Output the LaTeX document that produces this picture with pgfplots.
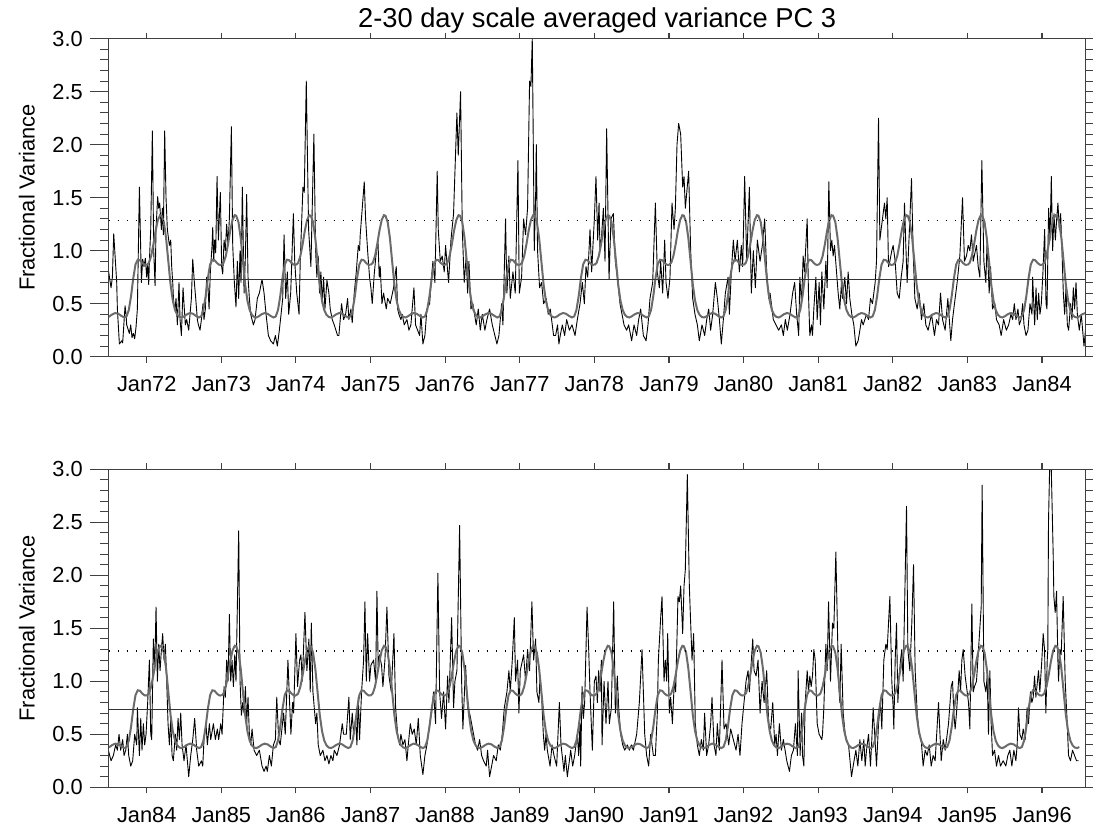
\documentclass[border=0pt]{standalone}
\usepackage{fontspec}
\setmainfont{Liberation Sans}
\usepackage{pgfplots}
\usepackage{pgfplotstable}
\pgfplotsset{compat=1.18}

\pgfplotstableread{
p v
0.000 0.865
0.030 0.885
0.060 0.950
0.090 1.060
0.120 1.190
0.150 1.290
0.180 1.335
0.200 1.330
0.230 1.270
0.260 1.120
0.290 0.900
0.320 0.680
0.350 0.530
0.380 0.440
0.410 0.395
0.440 0.375
0.470 0.370
0.500 0.380
0.540 0.400
0.580 0.412
0.620 0.405
0.660 0.385
0.700 0.370
0.730 0.380
0.760 0.440
0.790 0.570
0.820 0.740
0.850 0.870
0.880 0.915
0.910 0.910
0.940 0.885
0.970 0.868
1.000 0.865
}\cyc

\pgfplotstableread{
p v
0.000 0.865
0.030 0.885
0.060 0.950
0.090 1.060
0.120 1.190
0.150 1.290
0.180 1.335
0.200 1.330
0.230 1.270
0.260 1.120
0.290 0.900
0.320 0.680
0.350 0.530
0.380 0.440
0.410 0.395
0.440 0.375
0.470 0.370
0.500 0.380
}\cychalf

\pgfplotstableread{
t v
1971.486 0.82
1971.522 0.65
1971.540 0.75
1971.558 1.16
1971.598 0.70
1971.607 0.45
1971.634 0.12
1971.665 0.15
1971.678 0.13
1971.710 0.48
1971.723 0.40
1971.732 0.30
1971.754 0.25
1971.768 0.22
1971.786 0.30
1971.803 0.18
1971.821 0.22
1971.839 0.17
1971.857 0.28
1971.875 0.45
1971.902 1.60
1971.929 0.70
1971.946 0.92
1971.964 0.85
1971.982 0.93
1972.000 0.75
1972.013 0.88
1972.027 0.68
1972.036 0.90
1972.054 1.20
1972.076 2.13
1972.094 1.00
1972.112 0.67
1972.125 1.20
1972.147 1.51
1972.161 1.40
1972.174 1.45
1972.197 1.20
1972.210 1.40
1972.223 1.15
1972.241 2.13
1972.259 1.50
1972.277 1.20
1972.304 1.05
1972.322 1.10
1972.335 0.85
1972.349 0.70
1972.362 0.50
1972.380 0.45
1972.393 0.55
1972.411 0.30
1972.433 0.70
1972.447 0.35
1972.465 0.20
1972.487 0.65
1972.500 0.50
1972.518 0.30
1972.536 0.35
1972.563 0.25
1972.581 0.40
1972.599 0.55
1972.617 0.92
1972.639 0.70
1972.657 0.55
1972.679 0.35
1972.693 0.30
1972.715 0.25
1972.733 0.35
1972.755 0.50
1972.768 0.35
1972.786 0.45
1972.804 0.75
1972.822 0.65
1972.836 0.45
1972.853 0.80
1972.876 1.05
1972.885 1.22
1972.898 0.90
1972.911 1.10
1972.925 0.98
1972.943 1.70
1972.961 1.10
1972.987 1.55
1973.005 0.85
1973.019 0.78
1973.037 1.10
1973.054 1.00
1973.072 1.25
1973.090 1.05
1973.108 1.30
1973.135 2.17
1973.153 1.05
1973.175 0.70
1973.197 0.47
1973.215 0.90
1973.233 0.55
1973.251 1.00
1973.264 0.70
1973.282 1.60
1973.305 0.60
1973.323 0.95
1973.340 1.53
1973.358 0.75
1973.376 0.55
1973.394 0.40
1973.430 0.30
1973.452 0.35
1973.483 0.55
1973.510 0.60
1973.546 0.73
1973.573 0.60
1973.600 0.40
1973.631 0.20
1973.662 0.15
1973.698 0.12
1973.725 0.20
1973.751 0.10
1973.778 0.25
1973.801 0.40
1973.823 0.55
1973.841 1.15
1973.863 0.55
1973.885 0.80
1973.903 0.40
1973.930 0.60
1973.966 1.35
1973.984 0.90
1974.011 0.60
1974.042 0.40
1974.058 0.90
1974.094 1.60
1974.112 1.55
1974.139 2.60
1974.170 1.20
1974.201 0.85
1974.241 2.10
1974.264 1.00
1974.281 0.75
1974.299 0.95
1974.317 0.60
1974.335 0.80
1974.353 0.50
1974.371 0.75
1974.389 0.45
1974.416 0.72
1974.442 0.60
1974.460 0.45
1974.487 0.35
1974.514 0.30
1974.558 0.20
1974.576 0.20
1974.612 0.50
1974.639 0.35
1974.666 0.40
1974.693 0.55
1974.710 0.35
1974.737 0.45
1974.755 0.32
1974.782 0.60
1974.809 0.80
1974.836 1.05
1974.853 1.00
1974.862 1.15
1974.889 1.40
1974.916 1.65
1974.934 1.30
1974.961 1.00
1974.987 0.75
1975.005 0.65
1975.023 0.50
1975.050 0.78
1975.072 0.95
1975.099 1.10
1975.117 0.75
1975.130 0.85
1975.153 0.50
1975.175 0.60
1975.211 0.45
1975.229 0.55
1975.264 0.50
1975.309 0.65
1975.345 0.85
1975.363 0.45
1975.381 0.40
1975.407 0.35
1975.425 0.40
1975.452 0.30
1975.488 0.35
1975.515 0.25
1975.541 0.30
1975.582 0.65
1975.604 0.30
1975.631 0.25
1975.658 0.20
1975.676 0.40
1975.702 0.12
1975.729 0.20
1975.756 0.45
1975.792 0.50
1975.818 0.75
1975.836 0.90
1975.863 0.70
1975.894 1.75
1975.908 1.20
1975.935 0.90
1975.961 0.95
1975.988 0.80
1976.006 1.05
1976.046 0.70
1976.078 1.10
1976.113 1.35
1976.158 2.30
1976.176 1.90
1976.207 2.50
1976.230 1.20
1976.256 0.70
1976.283 0.95
1976.301 0.60
1976.319 0.90
1976.346 0.45
1976.372 0.50
1976.417 0.30
1976.444 0.45
1976.471 0.25
1976.498 0.40
1976.533 0.25
1976.560 0.35
1976.596 0.45
1976.632 0.30
1976.667 0.20
1976.694 0.12
1976.721 0.20
1976.757 0.50
1976.775 0.30
1976.810 1.30
1976.828 0.60
1976.855 0.95
1976.873 0.55
1976.909 0.80
1976.940 0.60
1976.976 1.85
1976.994 0.60
1977.025 0.75
1977.052 1.30
1977.078 1.15
1977.105 1.40
1977.132 2.60
1977.150 2.55
1977.168 3.00
1977.186 1.70
1977.195 1.00
1977.213 1.50
1977.222 2.00
1977.239 1.00
1977.266 0.65
1977.293 0.70
1977.320 0.50
1977.355 0.55
1977.382 0.40
1977.409 0.45
1977.454 0.20
1977.481 0.20
1977.507 0.30
1977.525 0.12
1977.543 0.20
1977.571 0.30
1977.602 0.20
1977.629 0.35
1977.665 0.25
1977.701 0.30
1977.741 0.20
1977.772 0.35
1977.808 0.50
1977.839 0.70
1977.866 0.50
1977.888 0.85
1977.911 0.75
1977.942 1.20
1977.964 0.80
1977.978 1.00
1978.000 1.30
1978.022 1.70
1978.045 1.10
1978.063 1.45
1978.076 1.00
1978.098 1.15
1978.121 1.40
1978.143 0.90
1978.165 2.15
1978.197 0.73
1978.223 1.30
1978.255 1.35
1978.281 0.90
1978.308 0.75
1978.344 0.50
1978.371 0.40
1978.398 0.30
1978.433 0.25
1978.460 0.30
1978.500 0.15
1978.532 0.30
1978.567 0.20
1978.594 0.35
1978.621 0.45
1978.657 0.20
1978.693 0.15
1978.719 0.30
1978.746 0.55
1978.782 0.70
1978.818 1.45
1978.844 0.80
1978.871 0.65
1978.889 0.90
1978.916 0.60
1978.943 1.10
1978.961 0.70
1978.987 0.55
1979.014 0.75
1979.041 1.45
1979.068 1.20
1979.086 1.40
1979.108 2.00
1979.130 2.20
1979.157 2.10
1979.184 1.60
1979.202 1.70
1979.220 1.40
1979.264 1.75
1979.291 1.00
1979.318 0.55
1979.349 0.40
1979.381 0.30
1979.407 0.15
1979.443 0.30
1979.479 0.20
1979.506 0.35
1979.533 0.45
1979.559 0.25
1979.586 0.40
1979.622 0.70
1979.649 0.55
1979.676 0.35
1979.702 0.12
1979.729 0.35
1979.756 0.60
1979.792 0.75
1979.810 0.40
1979.836 0.80
1979.863 1.10
1979.886 0.90
1979.917 1.10
1979.944 0.80
1979.970 1.05
1979.988 0.85
1980.015 1.70
1980.042 0.90
1980.078 1.60
1980.104 0.60
1980.131 1.00
1980.158 0.65
1980.185 1.10
1980.221 0.90
1980.252 1.05
1980.283 1.30
1980.310 0.80
1980.337 0.55
1980.355 0.60
1980.399 0.35
1980.435 0.30
1980.471 0.25
1980.507 0.30
1980.533 0.20
1980.560 0.35
1980.587 0.25
1980.623 0.40
1980.658 0.60
1980.685 0.70
1980.712 0.40
1980.739 0.20
1980.754 0.75
1980.777 0.50
1980.799 0.95
1980.817 0.80
1980.853 1.30
1980.870 0.60
1980.888 0.20
1980.911 0.30
1980.924 0.20
1980.942 0.45
1980.969 0.75
1980.987 0.35
1981.013 0.70
1981.031 0.30
1981.049 0.80
1981.076 0.45
1981.103 0.90
1981.121 0.65
1981.143 1.65
1981.165 1.00
1981.183 1.10
1981.201 0.95
1981.219 1.05
1981.246 0.80
1981.268 0.60
1981.290 0.45
1981.313 0.70
1981.326 0.55
1981.357 0.75
1981.380 0.50
1981.402 0.80
1981.424 0.55
1981.451 0.40
1981.478 0.30
1981.505 0.10
1981.536 0.15
1981.559 0.25
1981.581 0.35
1981.603 0.30
1981.648 0.40
1981.675 0.35
1981.701 0.55
1981.728 0.50
1981.746 0.60
1981.764 0.70
1981.782 0.90
1981.809 2.25
1981.827 1.10
1981.844 1.20
1981.862 1.30
1981.889 1.45
1981.907 1.30
1981.925 1.50
1981.943 0.85
1981.961 0.90
1981.987 1.00
1982.005 1.05
1982.032 0.90
1982.059 0.60
1982.086 0.55
1982.113 0.75
1982.139 0.90
1982.157 1.45
1982.175 1.05
1982.193 0.70
1982.229 1.30
1982.251 1.68
1982.273 1.00
1982.296 0.55
1982.327 0.45
1982.354 0.60
1982.385 0.35
1982.416 0.50
1982.443 0.30
1982.474 0.25
1982.519 0.40
1982.559 0.20
1982.586 0.35
1982.613 0.30
1982.640 0.60
1982.667 0.35
1982.702 0.25
1982.738 0.55
1982.778 0.15
1982.801 0.35
1982.827 0.50
1982.863 0.70
1982.899 0.95
1982.935 1.50
1982.961 0.90
1982.988 0.95
1983.011 1.05
1983.033 1.00
1983.055 1.15
1983.078 0.90
1983.122 1.05
1983.145 0.85
1983.167 0.75
1983.194 1.85
1983.221 0.90
1983.247 0.70
1983.265 1.10
1983.292 0.60
1983.310 0.85
1983.337 0.45
1983.368 0.50
1983.390 0.35
1983.426 0.30
1983.453 0.20
1983.486 0.35
1983.522 0.25
1983.553 0.30
1983.584 0.40
1983.607 0.35
1983.629 0.50
1983.651 0.35
1983.678 0.45
1983.696 0.30
1983.719 0.35
1983.741 0.50
1983.759 0.30
1983.786 0.20
1983.812 0.25
1983.839 0.50
1983.866 0.40
1983.875 0.75
1983.902 0.30
1983.920 0.65
1983.937 0.35
1983.955 0.60
1983.973 0.40
1983.991 0.50
1984.013 0.80
1984.036 1.20
1984.054 0.50
1984.067 0.45
1984.089 1.40
1984.107 1.10
1984.125 1.70
1984.143 1.00
1984.161 1.35
1984.179 1.10
1984.197 1.30
1984.214 1.45
1984.232 1.20
1984.250 1.35
1984.268 1.00
1984.286 0.60
1984.304 0.40
1984.322 0.65
1984.340 0.30
1984.357 0.25
1984.384 0.50
1984.402 0.35
1984.420 0.65
1984.438 0.45
1984.456 0.70
1984.474 0.40
1984.500 0.25
1984.527 0.40
1984.563 0.10
1984.590 0.30
1984.617 0.45
1984.643 0.65
1984.670 0.35
1984.697 0.20
1984.733 0.25
1984.751 0.20
1984.768 0.45
1984.795 0.60
1984.813 0.40
1984.840 0.60
1984.858 0.45
1984.894 0.60
1984.920 0.45
1984.947 0.55
1984.965 0.45
1984.992 0.60
1985.010 0.50
1985.037 0.95
1985.054 0.85
1985.072 1.20
1985.090 1.00
1985.108 1.63
1985.126 1.00
1985.144 1.20
1985.162 0.95
1985.180 1.25
1985.197 1.00
1985.233 2.42
1985.251 1.00
1985.269 0.68
1985.287 0.80
1985.305 0.70
1985.323 0.95
1985.340 0.60
1985.358 0.85
1985.376 0.50
1985.394 0.40
1985.412 0.55
1985.439 0.35
1985.474 0.30
1985.510 0.35
1985.546 0.20
1985.573 0.15
1985.600 0.20
1985.617 0.15
1985.644 0.30
1985.671 0.20
1985.698 0.40
1985.725 0.45
1985.743 0.85
1985.769 0.45
1985.790 0.40
1985.812 0.55
1985.835 0.70
1985.857 0.50
1985.893 1.20
1985.915 0.80
1985.933 0.50
1985.955 0.80
1985.969 0.70
1986.000 1.45
1986.022 0.95
1986.049 1.20
1986.067 1.25
1986.085 1.00
1986.121 1.65
1986.147 1.10
1986.174 1.40
1986.192 0.90
1986.206 1.55
1986.228 0.90
1986.246 0.75
1986.264 0.60
1986.281 0.70
1986.299 0.40
1986.326 0.30
1986.362 0.35
1986.389 0.25
1986.416 0.30
1986.442 0.22
1986.469 0.30
1986.496 0.25
1986.514 0.35
1986.550 0.30
1986.585 0.40
1986.621 0.60
1986.639 0.50
1986.675 0.50
1986.710 0.85
1986.728 0.45
1986.755 0.70
1986.773 0.50
1986.800 0.65
1986.818 0.40
1986.836 0.85
1986.853 0.45
1986.880 0.90
1986.907 1.20
1986.925 1.75
1986.943 1.00
1986.961 1.45
1986.987 1.00
1987.005 1.15
1987.041 1.20
1987.068 1.00
1987.086 1.85
1987.104 1.10
1987.121 1.25
1987.148 1.15
1987.166 0.95
1987.193 1.20
1987.220 1.70
1987.247 1.05
1987.278 0.90
1987.314 1.45
1987.336 0.75
1987.363 0.50
1987.390 0.40
1987.407 0.50
1987.434 0.40
1987.461 0.45
1987.488 0.25
1987.506 0.40
1987.533 0.60
1987.559 0.50
1987.586 0.55
1987.613 0.40
1987.640 0.65
1987.667 0.30
1987.702 0.12
1987.729 0.30
1987.756 0.40
1987.792 0.60
1987.818 0.70
1987.845 0.90
1987.872 0.60
1987.903 2.02
1987.926 0.90
1987.952 0.65
1987.979 0.90
1988.006 0.55
1988.033 1.05
1988.051 0.80
1988.087 1.60
1988.113 0.75
1988.131 1.00
1988.158 1.10
1988.194 2.47
1988.221 1.00
1988.238 0.55
1988.274 1.15
1988.301 0.75
1988.328 0.70
1988.355 0.60
1988.381 0.50
1988.408 0.40
1988.435 0.35
1988.462 0.45
1988.489 0.30
1988.515 0.25
1988.551 0.20
1988.569 0.35
1988.596 0.10
1988.623 0.20
1988.649 0.30
1988.685 0.25
1988.712 0.40
1988.739 0.35
1988.766 0.50
1988.793 0.75
1988.828 0.90
1988.855 1.10
1988.873 0.90
1988.900 1.20
1988.927 1.60
1988.944 1.00
1988.971 1.20
1988.989 0.70
1989.007 1.10
1989.052 1.25
1989.078 1.00
1989.105 1.30
1989.132 1.10
1989.163 1.75
1989.186 1.20
1989.213 1.40
1989.230 0.90
1989.257 0.80
1989.272 1.05
1989.294 0.85
1989.316 0.50
1989.334 0.35
1989.352 0.50
1989.370 0.35
1989.406 0.20
1989.433 0.40
1989.459 0.30
1989.495 0.20
1989.531 0.80
1989.553 0.40
1989.593 0.15
1989.611 0.30
1989.638 0.10
1989.665 0.25
1989.683 0.35
1989.710 0.20
1989.736 0.30
1989.772 0.50
1989.790 0.30
1989.808 0.60
1989.817 0.20
1989.835 0.95
1989.853 0.65
1989.870 0.80
1989.902 1.70
1989.924 1.30
1989.942 0.90
1989.973 0.35
1990.000 1.00
1990.022 1.05
1990.040 0.80
1990.058 1.10
1990.076 0.90
1990.094 1.20
1990.103 0.40
1990.130 1.00
1990.156 0.60
1990.183 1.00
1990.201 0.60
1990.228 0.75
1990.259 1.75
1990.281 0.70
1990.308 1.05
1990.326 0.75
1990.353 0.50
1990.380 0.40
1990.407 0.35
1990.442 0.40
1990.469 0.35
1990.496 0.40
1990.523 0.35
1990.567 0.50
1990.603 0.80
1990.639 1.30
1990.675 0.50
1990.701 0.30
1990.728 0.20
1990.755 0.50
1990.791 0.30
1990.818 0.30
1990.844 0.70
1990.858 1.20
1990.889 1.60
1990.907 1.80
1990.934 1.00
1990.952 1.20
1990.970 1.00
1990.983 1.45
1991.005 0.70
1991.023 0.85
1991.046 0.60
1991.072 1.00
1991.090 0.90
1991.121 1.80
1991.139 1.75
1991.157 1.90
1991.184 1.45
1991.202 1.90
1991.219 2.05
1991.246 2.95
1991.273 1.90
1991.309 1.20
1991.331 1.45
1991.353 0.60
1991.380 0.40
1991.407 0.30
1991.434 0.45
1991.461 0.35
1991.478 0.70
1991.505 0.30
1991.532 0.40
1991.559 0.60
1991.577 0.85
1991.604 0.40
1991.630 0.30
1991.648 0.60
1991.675 0.35
1991.711 1.20
1991.738 0.55
1991.765 0.60
1991.801 0.40
1991.827 0.55
1991.863 0.45
1991.899 0.35
1991.926 0.50
1991.952 0.30
1991.979 0.60
1992.006 0.80
1992.033 1.00
1992.060 1.10
1992.078 0.90
1992.123 1.40
1992.141 1.10
1992.168 1.05
1992.194 1.20
1992.221 0.70
1992.248 1.00
1992.275 0.80
1992.310 1.10
1992.337 0.60
1992.364 0.55
1992.391 0.80
1992.418 0.40
1992.436 0.50
1992.454 0.30
1992.480 0.60
1992.507 0.35
1992.534 0.45
1992.579 0.25
1992.615 0.15
1992.641 0.30
1992.668 0.35
1992.695 0.60
1992.722 0.30
1992.731 1.10
1992.758 0.30
1992.777 0.70
1992.790 0.30
1992.808 0.20
1992.826 0.80
1992.853 1.10
1992.870 0.90
1992.888 1.05
1992.906 0.95
1992.924 1.05
1992.942 1.30
1992.960 1.20
1992.987 0.60
1993.013 0.50
1993.049 0.45
1993.058 0.50
1993.076 0.75
1993.103 1.35
1993.121 1.10
1993.139 1.75
1993.165 1.00
1993.192 1.55
1993.210 1.50
1993.237 2.22
1993.273 1.00
1993.290 0.80
1993.308 1.35
1993.335 0.70
1993.362 0.50
1993.380 0.45
1993.407 0.40
1993.447 0.10
1993.469 0.20
1993.505 0.35
1993.532 0.20
1993.559 0.45
1993.585 0.25
1993.612 0.45
1993.630 0.20
1993.648 0.35
1993.675 0.50
1993.701 0.20
1993.719 0.45
1993.737 0.75
1993.782 0.20
1993.809 0.60
1993.836 0.80
1993.853 0.55
1993.880 1.20
1993.907 1.35
1993.925 1.30
1993.961 1.80
1993.987 1.00
1994.005 0.75
1994.014 0.55
1994.032 1.20
1994.050 1.55
1994.068 0.80
1994.086 1.05
1994.104 1.20
1994.121 1.30
1994.139 1.00
1994.184 2.65
1994.202 1.30
1994.229 1.10
1994.255 1.55
1994.278 2.10
1994.300 1.10
1994.327 0.70
1994.354 0.50
1994.381 0.45
1994.407 0.20
1994.434 0.35
1994.461 0.30
1994.488 0.40
1994.515 0.20
1994.541 0.30
1994.568 0.25
1994.613 0.80
1994.649 0.25
1994.676 0.45
1994.702 0.35
1994.747 0.60
1994.783 0.95
1994.801 1.00
1994.818 0.70
1994.836 0.55
1994.854 0.70
1994.890 1.10
1994.908 0.90
1994.926 1.20
1994.944 1.30
1994.970 1.05
1994.997 0.90
1995.015 0.80
1995.033 0.55
1995.060 1.73
1995.078 0.90
1995.095 0.95
1995.122 1.00
1995.149 1.30
1995.185 1.70
1995.198 2.85
1995.221 1.00
1995.248 0.90
1995.265 1.05
1995.283 0.50
1995.301 1.10
1995.319 0.60
1995.337 0.30
1995.364 0.35
1995.390 0.20
1995.417 0.30
1995.444 0.20
1995.480 0.25
1995.515 0.20
1995.542 0.30
1995.569 0.35
1995.596 0.20
1995.623 0.35
1995.650 0.25
1995.667 0.40
1995.685 0.75
1995.703 0.50
1995.730 0.45
1995.748 0.55
1995.775 0.45
1995.801 0.75
1995.819 0.60
1995.846 0.90
1995.864 0.80
1995.882 0.85
1995.900 1.05
1995.918 0.85
1995.953 1.10
1995.971 0.90
1995.998 1.20
1996.016 1.45
1996.034 1.30
1996.052 0.70
1996.070 1.20
1996.078 1.30
1996.087 2.50
1996.105 3.10
1996.123 3.05
1996.150 2.20
1996.159 1.80
1996.177 1.65
1996.195 1.85
1996.213 1.20
1996.222 1.00
1996.239 1.30
1996.257 1.25
1996.284 1.80
1996.311 1.00
1996.338 0.60
1996.356 0.30
1996.382 0.25
1996.409 0.35
1996.436 0.30
1996.463 0.25
1996.490 0.25
}\ser

\newcommand\lblfont{\fontsize{21.8}{26}\selectfont}
\pgfplotsset{
  base/.style={scale only axis, width=977.2pt, height=318pt, ymin=0, ymax=3,
    axis line style={black!75, line width=1.1pt},
    every tick/.style={black!75, line width=1.1pt},
    tick align=outside},
  dataax/.style={base, ytick=\empty, xtick pos=both, major tick length=6pt,
    xticklabel style={font=\lblfont, anchor=base, inner sep=0pt, yshift=-29pt}},
  leftax/.style={base, xtick=\empty, ytick={0,0.5,1,1.5,2,2.5,3}, minor y tick num=4,
    ytick pos=left, major tick length=19pt, minor tick length=9pt,
    yticklabel={\pgfmathprintnumber[fixed,fixed zerofill,precision=1,assume math mode=true]{\tick}},
    yticklabel style={font=\lblfont, anchor=east, inner sep=0pt, xshift=-6.5pt},
    ylabel={Fractional Variance},
    every axis y label/.style={at={(axis description cs:-0.0837,0.5)}, anchor=center, rotate=90, font=\lblfont}},
  rightax/.style={base, xtick=\empty, ytick pos=right, major tick length=8pt, yticklabels={},
    ytick={0,0.1,0.2,0.3,0.4,0.5,0.6,0.7,0.8,0.9,1,1.1,1.2,1.3,1.4,1.5,1.6,1.7,1.8,1.9,2,2.1,2.2,2.3,2.4,2.5,2.6,2.7,2.8,2.9,3}},
  blk/.style={black, line width=0.9pt, line join=round},
  gry/.style={black!58, line width=2pt},
  dotl/.style={black, line width=1.6pt, dash pattern=on 1.8pt off 7.2pt},
}

\begin{document}
\begin{tikzpicture}
\useasboundingbox (0,0) rectangle (1093pt,830pt);
% ---------- panel 1
\begin{axis}[dataax, at={(108.5pt,473.3pt)}, anchor=south west,
  xmin=1971.488, xmax=1984.586,
  xtick={1972,1973,1974,1975,1976,1977,1978,1979,1980,1981,1982,1983,1984},
  xticklabels={Jan72,Jan73,Jan74,Jan75,Jan76,Jan77,Jan78,Jan79,Jan80,Jan81,Jan82,Jan83,Jan84},
  title={2-30 day scale averaged variance PC 3},
  every axis title/.style={at={(0.5,1)}, anchor=base, yshift=11.4pt, font=\fontsize{27.3}{32}\selectfont}]
\addplot[blk] table[x=t, y=v] {\ser};
\pgfplotsinvokeforeach{1971,...,1984}{
  \addplot[gry] table[x expr=\thisrow{p}+#1, y=v] {\cyc};
}
\addplot[black!80, line width=1.1pt] coordinates {(1971,0.73) (1985,0.73)};
\addplot[dotl] coordinates {(1971.49,1.285) (1985,1.285)};
\end{axis}
\begin{axis}[leftax, at={(108.5pt,473.3pt)}, anchor=south west, xmin=0, xmax=1]
\end{axis}
\begin{axis}[rightax, at={(108.5pt,473.3pt)}, anchor=south west, xmin=0, xmax=1]
\end{axis}
% ---------- panel 2
\begin{axis}[dataax, at={(108.5pt,42.7pt)}, anchor=south west,
  xmin=1983.488, xmax=1996.586,
  xtick={1984,1985,1986,1987,1988,1989,1990,1991,1992,1993,1994,1995,1996},
  xticklabels={Jan84,Jan85,Jan86,Jan87,Jan88,Jan89,Jan90,Jan91,Jan92,Jan93,Jan94,Jan95,Jan96}]
\addplot[blk] table[x=t, y=v] {\ser};
\pgfplotsinvokeforeach{1983,...,1995}{
  \addplot[gry] table[x expr=\thisrow{p}+#1, y=v] {\cyc};
}
\addplot[gry] table[x expr=\thisrow{p}+1996, y=v] {\cychalf};
\addplot[black!80, line width=1.1pt] coordinates {(1983,0.73) (1997,0.73)};
\addplot[dotl] coordinates {(1983.49,1.285) (1997,1.285)};
\end{axis}
\begin{axis}[leftax, at={(108.5pt,42.7pt)}, anchor=south west, xmin=0, xmax=1]
\end{axis}
\begin{axis}[rightax, at={(108.5pt,42.7pt)}, anchor=south west, xmin=0, xmax=1]
\end{axis}
\end{tikzpicture}
\end{document}
